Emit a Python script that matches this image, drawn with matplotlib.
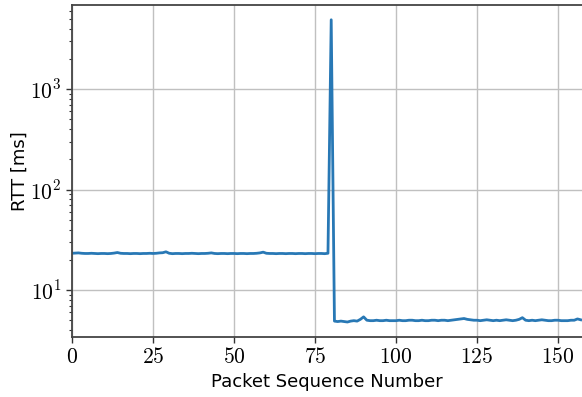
import numpy as np
import matplotlib
matplotlib.use("Agg")
import matplotlib.pyplot as plt
from matplotlib.ticker import FuncFormatter, LogLocator, MultipleLocator

plt.rcParams['mathtext.fontset'] = 'cm'
plt.rcParams['font.family'] = 'DejaVu Sans'

# RTT before the handover (packets 0..79)
rtt_before = [
    23.2, 23.3, 23.4, 23.2, 23.1, 23.1, 23.2, 23.1, 23.0, 23.1,
    23.1, 23.0, 23.1, 23.3, 23.6, 23.2, 23.1, 23.1, 23.0, 23.1,
    23.1, 23.0, 23.1, 23.1, 23.2, 23.1, 23.2, 23.4, 23.5, 24.0,
    23.2, 23.0, 23.1, 23.1, 23.0, 23.1, 23.1, 23.2, 23.1, 23.0,
    23.1, 23.1, 23.2, 23.4, 23.1, 23.0, 23.1, 23.1, 23.0, 23.1,
    23.1, 23.0, 23.1, 23.1, 23.0, 23.1, 23.1, 23.2, 23.4, 23.8,
    23.2, 23.1, 23.1, 23.0, 23.1, 23.1, 23.0, 23.1, 23.1, 23.0,
    23.1, 23.1, 23.0, 23.1, 23.1, 23.0, 23.1, 23.1, 23.0, 23.2,
]
# spike at packet 80
rtt_spike = [4900.0]
# RTT after (packets 81..157)
rtt_after = [
    4.90, 4.85, 4.90, 4.85, 4.80, 4.90, 4.95, 4.90, 5.10, 5.40,
    5.00, 4.95, 4.95, 5.00, 4.95, 4.95, 5.00, 4.95, 4.95, 4.95,
    5.00, 4.95, 4.95, 5.00, 5.00, 4.95, 4.95, 5.00, 4.95, 4.95,
    5.00, 5.00, 4.95, 5.00, 5.00, 4.95, 5.00, 5.05, 5.10, 5.15,
    5.20, 5.10, 5.05, 5.00, 5.00, 4.95, 5.00, 5.05, 5.00, 4.95,
    5.00, 4.95, 5.00, 5.05, 5.00, 4.95, 5.00, 5.10, 5.30, 5.00,
    4.95, 5.00, 4.95, 5.00, 5.05, 5.00, 4.95, 4.95, 5.00, 5.00,
    4.95, 4.95, 4.95, 5.00, 5.00, 5.15, 5.05,
]

rtt = np.array(rtt_before + rtt_spike + rtt_after)
seq = np.arange(len(rtt))

fig = plt.figure(figsize=(5.82, 3.97), dpi=100)
ax = fig.add_axes([0.1237, 0.151, 0.8763, 0.836])

ax.plot(seq, rtt, color='#2878b5', lw=2.0)
ax.set_yscale('log')
ax.set_xlim(0, 157.4)
ax.set_ylim(3.4, 6850)

ax.grid(True, which='major', color='#c0c0c0', lw=1.0)
ax.set_axisbelow(True)

ax.xaxis.set_major_locator(MultipleLocator(25))
ax.xaxis.set_major_formatter(FuncFormatter(lambda v, p: r'$%d$' % v))
ax.yaxis.set_major_locator(LogLocator(base=10))
ax.yaxis.set_major_formatter(FuncFormatter(lambda v, p: r'$10^{%d}$' % round(np.log10(v))))
ax.tick_params(axis='both', which='major', labelsize=15.5, length=4, width=1, color='#333333')
ax.tick_params(axis='y', which='minor', length=2.5, width=0.8, color='#333333')

for s in ['left', 'bottom', 'top']:
    ax.spines[s].set_color('#444444')
    ax.spines[s].set_linewidth(1.3)
ax.spines['right'].set_visible(False)

ax.set_xlabel('Packet Sequence Number', fontsize=13, labelpad=4)
ax.set_ylabel('RTT [ms]', fontsize=13, labelpad=1)

fig.savefig('out.png', dpi=100)
